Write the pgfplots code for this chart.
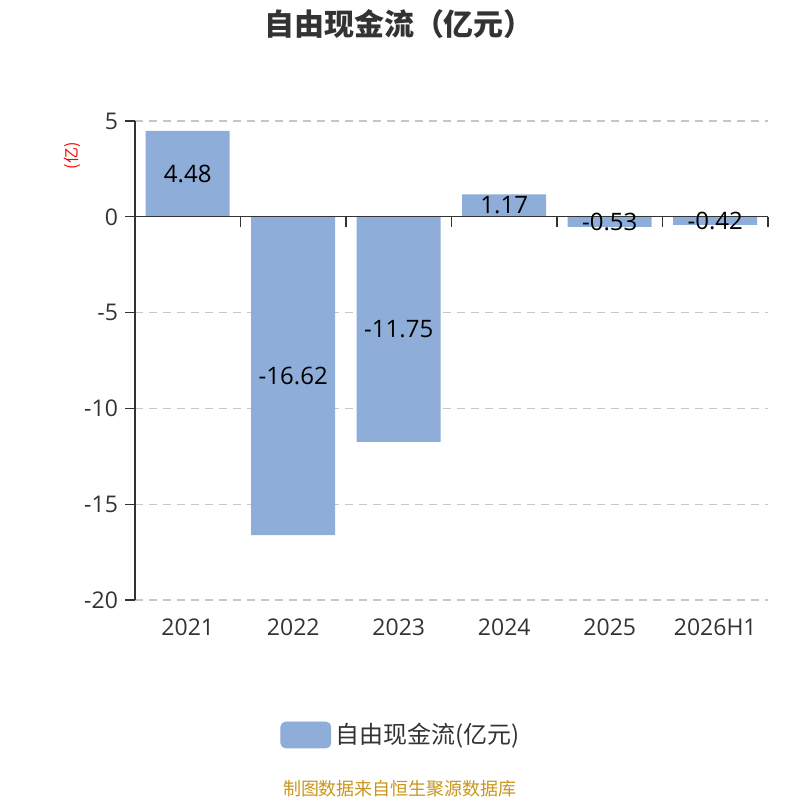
\documentclass[border=0pt]{standalone}
\usepackage{pgfplots}
\pgfplotsset{compat=1.18}
\usepackage{fontspec}
\setmainfont{Open Sans}
\newfontfamily\cjk{Noto Sans CJK SC}
\definecolor{barc}{HTML}{8EADD9}
\definecolor{txt}{HTML}{333333}
\definecolor{foot}{HTML}{C8961E}
\begin{document}
\begin{tikzpicture}
\path[use as bounding box] (0,0) rectangle (400pt,400pt);
\node[font=\cjk\bfseries\fontsize{15}{17}\selectfont, text=txt] at (199.5pt,388pt) {自由现金流（亿元）};
\node[font=\cjk\fontsize{8}{9}\selectfont, text=red, rotate=90] at (36pt,322pt) {(亿)};
\node[font=\cjk\fontsize{9}{10}\selectfont, text=foot] at (200pt,5.5pt) {制图数据来自恒生聚源数据库};
\begin{axis}[
  at={(67.5pt,100pt)}, anchor=south west,
  scale only axis, width=316.5pt, height=239.5pt,
  xmin=-0.5, xmax=5.5, ymin=-20, ymax=5,
  axis x line=bottom,
  x axis line style={draw=none},
  axis y line*=left,
  y axis line style={draw=txt, line width=0.6pt},
  ytick={-20,-15,-10,-5,0,5},
  xtick={0,1,2,3,4,5},
  xticklabels={2021,2022,2023,2024,2025,2026H1},
  xtick style={draw=none},
  ymajorgrids,
  grid style={dash pattern=on 4pt off 3pt, draw=black!22, line width=0.6pt},
  major tick length=5pt,
  ytick style={draw=txt, line width=0.6pt},
  tick align=outside,
  ticklabel style={font=\fontsize{11.5}{13}\selectfont, text=txt},
  xticklabel style={yshift=-1pt},
  /pgf/number format/assume math mode=true,
  clip=false,
  legend style={at={(0.4217,-0.2818)}, anchor=center, draw=none, fill=none,
    font=\cjk\fontsize{12}{14}\selectfont, text=txt, legend columns=1,
    /tikz/every even column/.style={column sep=2pt}},
  legend image code/.code={\draw[barc, fill=barc, rounded corners=2.5pt] (0pt,-6.5pt) rectangle (25pt,6.5pt);},
]
\addplot[ybar, bar width=42pt, fill=barc, draw=none,
  nodes near coords,
  point meta=explicit symbolic,
  visualization depends on={value \thisrow{h} \as \halfy},
  every node near coord/.append style={anchor=center, text=black,
    font=\fontsize{12}{14}\selectfont,
    shift={(axis direction cs:0,\halfy)}},
] table[meta=lab] {
x y lab h
0 4.48 4.48 -2.24
1 -16.62 -16.62 8.31
2 -11.75 -11.75 5.875
3 1.17 1.17 -0.585
4 -0.53 -0.53 0.265
5 -0.42 -0.42 0.21
};
\addlegendentry{自由现金流(亿元)}
\draw[txt, line width=0.6pt] (axis cs:-0.5,0) -- (axis cs:5.5,0);
\pgfplotsinvokeforeach{0.5,1.5,2.5,3.5,4.5,5.5}{
  \draw[txt, line width=0.6pt] (axis cs:#1,0) -- ([yshift=-5pt]axis cs:#1,0);
}
\end{axis}
\end{tikzpicture}
\end{document}
